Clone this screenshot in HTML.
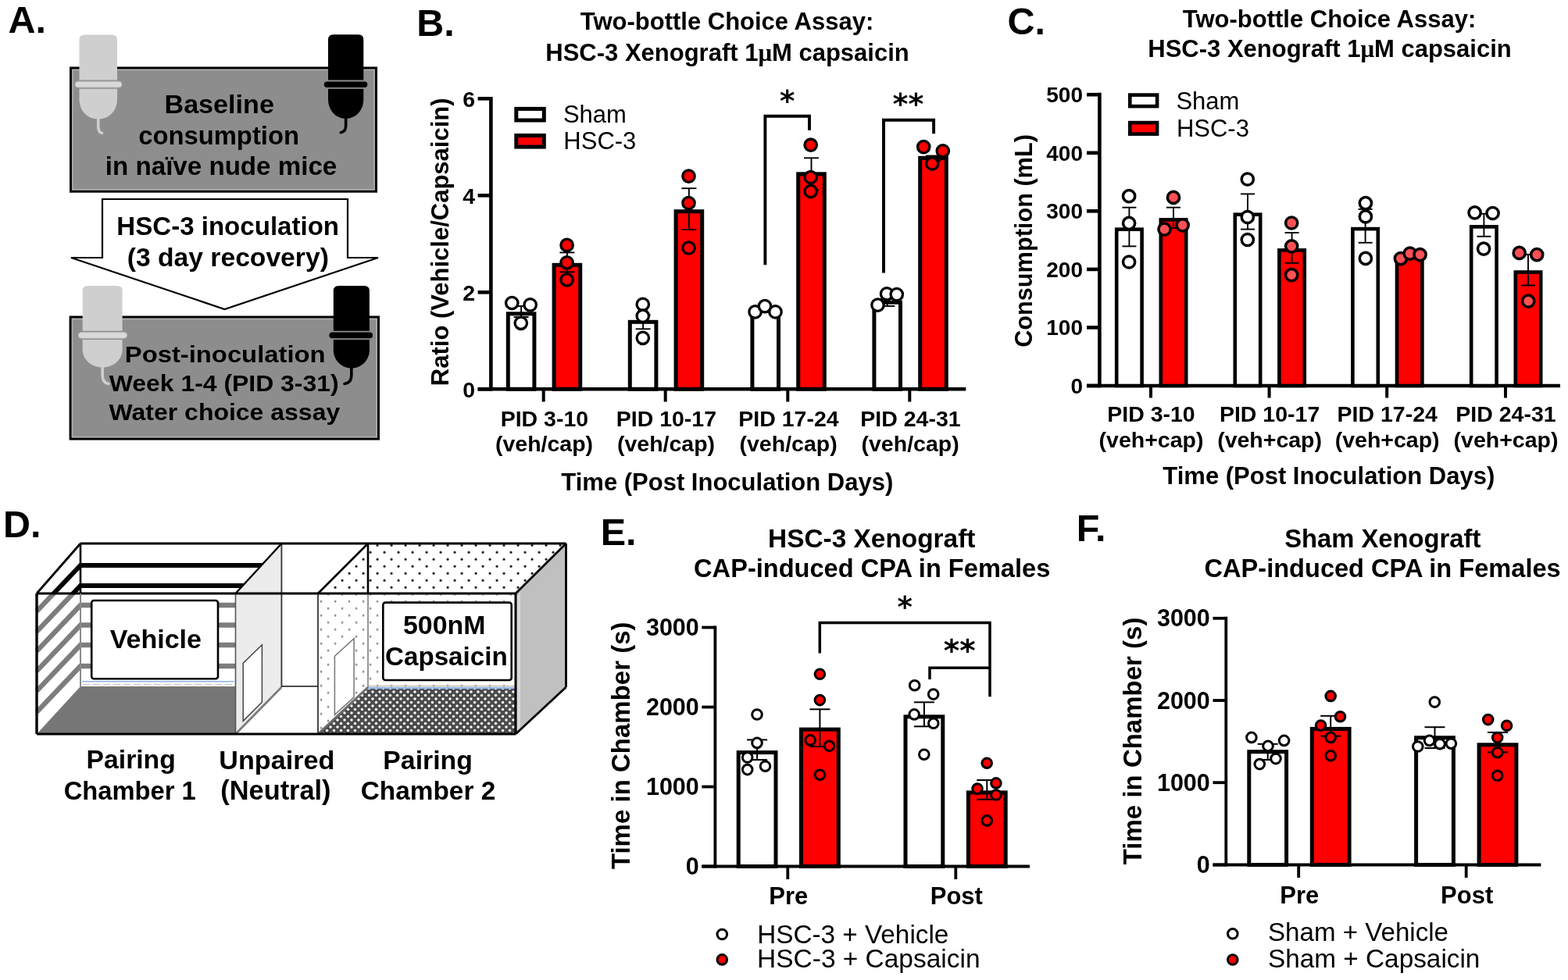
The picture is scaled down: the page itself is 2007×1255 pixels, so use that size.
<!DOCTYPE html><html><head><meta charset="utf-8"><title>Figure</title><style>html,body{margin:0;padding:0;background:#fff;overflow:hidden}svg{display:block}</style></head><body>
<svg width="2007" height="1255" viewBox="0 0 2007 1255" font-family="'Liberation Sans', sans-serif">
<rect width="2007" height="1255" fill="#fff"/>
<text x="10.5" y="41.5" font-size="48.5" font-weight="bold" text-anchor="start" >A.</text>
<text x="533.2" y="46.0" font-size="48.5" font-weight="bold" text-anchor="start" >B.</text>
<text x="1289.4" y="43.8" font-size="48.5" font-weight="bold" text-anchor="start" >C.</text>
<text x="4.0" y="688.0" font-size="48.5" font-weight="bold" text-anchor="start" >D.</text>
<text x="768.7" y="697.8" font-size="48.5" font-weight="bold" text-anchor="start" >E.</text>
<text x="1377.7" y="692.7" font-size="48.5" font-weight="bold" text-anchor="start" >F.</text>
<rect x="90.5" y="87.0" width="391.0" height="158.2" fill="#8d8d8d" stroke="#000" stroke-width="3"/>
<rect x="93.0" y="89.5" width="386.0" height="153.2" fill="none" stroke="#b0b0b0" stroke-width="1.5"/>
<rect x="90.1" y="406.0" width="394.4" height="156.1" fill="#8d8d8d" stroke="#000" stroke-width="3"/>
<rect x="92.6" y="408.5" width="389.4" height="151.1" fill="none" stroke="#b0b0b0" stroke-width="1.5"/>
<path d="M131,255 L445,255 L445,330 L484,330 L287.5,396 L91,330 L131,330 Z" fill="#fff" stroke="#000" stroke-width="2.2" stroke-linejoin="miter"/>
<path d="M101.5,102.4 L101.5,51.0 Q101.5,44.5 108.0,44.5 L143.5,44.5 Q150,44.5 150,51.0 L150,102.4 Z" fill="#cfcfcf"/>
<path d="M101.5,113.8 L101.5,126.8 C101.5,142.5 112.4,152.5 125.75,152.5 C139.1,152.5 150,142.5 150,126.8 L150,113.8 Z" fill="#cfcfcf"/>
<rect x="96" y="104.2" width="60" height="7.799999999999997" rx="3.8999999999999986" fill="#d9d9d9" stroke="#b8b8b8" stroke-width="1"/>
<path d="M125.75,151.5 L125.75,161.5 Q125.75,169.5 130.5,170.5" fill="none" stroke="#cfcfcf" stroke-width="3.6" stroke-linecap="round"/>
<path d="M420,102.60000000000001 L420,50.7 Q420,44.2 426.5,44.2 L458.8,44.2 Q465.3,44.2 465.3,50.7 L465.3,102.60000000000001 Z" fill="#000"/>
<path d="M420,113.7 L420,126.7 C420,141.8 430.2,151.8 442.65,151.8 C455.1,151.8 465.3,141.8 465.3,126.7 L465.3,113.7 Z" fill="#000"/>
<rect x="414.8" y="104.4" width="55.5" height="7.5" rx="3.75" fill="#000" stroke="none" stroke-width="1"/>
<path d="M442.65,150.8 L442.65,160.8 Q442.65,168.7 436.3,169.7" fill="none" stroke="#000" stroke-width="3.6" stroke-linecap="round"/>
<path d="M105.7,423.8 L105.7,372.5 Q105.7,366 112.2,366 L150.1,366 Q156.6,366 156.6,372.5 L156.6,423.8 Z" fill="#cfcfcf"/>
<path d="M105.7,435.0 L105.7,448.0 C105.7,460.5 117.2,470.5 131.15,470.5 C145.1,470.5 156.6,460.5 156.6,448.0 L156.6,435.0 Z" fill="#cfcfcf"/>
<rect x="100.3" y="425.6" width="62.3" height="7.599999999999966" rx="3.799999999999983" fill="#d9d9d9" stroke="#b8b8b8" stroke-width="1"/>
<path d="M131.15,469.5 L131.15,479.5 Q131.15,490.5 139,491.5" fill="none" stroke="#cfcfcf" stroke-width="3.6" stroke-linecap="round"/>
<path d="M426.8,423.8 L426.8,372.5 Q426.8,366 433.3,366 L466.4,366 Q472.9,366 472.9,372.5 L472.9,423.8 Z" fill="#000"/>
<path d="M426.8,435.0 L426.8,448.0 C426.8,461.5 437.2,471.5 449.85,471.5 C462.5,471.5 472.9,461.5 472.9,448.0 L472.9,435.0 Z" fill="#000"/>
<rect x="421.4" y="425.6" width="55.60000000000002" height="7.599999999999966" rx="3.799999999999983" fill="#000" stroke="none" stroke-width="1"/>
<path d="M449.85,470.5 L449.85,480.5 Q449.85,490.5 441,491.5" fill="none" stroke="#000" stroke-width="3.6" stroke-linecap="round"/>
<text transform="translate(210.48,144.50) scale(1,0.95)" font-size="34.15" font-weight="bold">Baseline</text>
<text x="177.25" y="185.20" font-size="32.77" font-weight="bold">consumption</text>
<text x="134.85" y="224.20" font-size="33.14" font-weight="bold">in naïve nude mice</text>
<text x="149.35" y="301.40" font-size="33.07" font-weight="bold">HSC-3 inoculation</text>
<text x="162.79" y="341.20" font-size="33.65" font-weight="bold">(3 day recovery)</text>
<text transform="translate(159.77,463.70) scale(1,0.92)" font-size="32.80" font-weight="bold">Post-inoculation</text>
<text transform="translate(139.80,501.00) scale(1,0.92)" font-size="31.91" font-weight="bold">Week 1-4 (PID 3-31)</text>
<text transform="translate(139.60,538.00) scale(1,0.92)" font-size="31.98" font-weight="bold">Water choice assay</text>
<defs><pattern id="dotsK" patternUnits="userSpaceOnUse" x="483.1" y="716.3" width="18" height="18"><circle cx="0" cy="0" r="1.6" fill="#000"/><circle cx="18" cy="0" r="1.6" fill="#000"/><circle cx="0" cy="18" r="1.6" fill="#000"/><circle cx="18" cy="18" r="1.6" fill="#000"/><circle cx="9" cy="9" r="1.6" fill="#000"/></pattern><pattern id="dotsG" patternUnits="userSpaceOnUse" x="483.1" y="716.3" width="18" height="18"><circle cx="0" cy="0" r="1.4" fill="#8a8a8a"/><circle cx="18" cy="0" r="1.4" fill="#8a8a8a"/><circle cx="0" cy="18" r="1.4" fill="#8a8a8a"/><circle cx="18" cy="18" r="1.4" fill="#8a8a8a"/><circle cx="9" cy="9" r="1.4" fill="#8a8a8a"/></pattern><pattern id="floorP" patternUnits="userSpaceOnUse" x="0" y="886" width="9" height="9"><rect width="9" height="9" fill="#4a4a4a"/><circle cx="0" cy="0" r="1.75" fill="#fff"/><circle cx="9" cy="0" r="1.75" fill="#fff"/><circle cx="0" cy="9" r="1.75" fill="#fff"/><circle cx="9" cy="9" r="1.75" fill="#fff"/><circle cx="4.5" cy="4.5" r="1.75" fill="#fff"/></pattern><clipPath id="above"><rect x="0" y="640" width="760" height="120"/></clipPath><clipPath id="below"><rect x="0" y="760" width="760" height="200"/></clipPath></defs>
<polygon points="103.0,696.0 360.4,696.0 360.4,880.0 103.0,880.0" fill="#fff"/>
<polygon points="47.0,760.0 103.0,696.0 103.0,880.0 47.0,940.0" fill="#fff"/>
<g clip-path="url(#above)"><path d="M360.4,724 L103,724 L47,782.8 M360.4,750 L103,750 L47,808.8 M360.4,775 L103,775 L47,833.8 M360.4,800.5 L103,800.5 L47,859.3 M360.4,826 L103,826 L47,884.8 M360.4,853 L103,853 L47,911.8 " stroke="#000" stroke-width="6" fill="none"/></g>
<g clip-path="url(#below)"><path d="M360.4,724 L103,724 L47,782.8 M360.4,750 L103,750 L47,808.8 M360.4,775 L103,775 L47,833.8 M360.4,800.5 L103,800.5 L47,859.3 M360.4,826 L103,826 L47,884.8 M360.4,853 L103,853 L47,911.8 " stroke="#7d7d7d" stroke-width="6.3" fill="none"/></g>
<polygon points="47.0,940.0 301.5,940.0 360.4,879.0 103.0,879.0" fill="#767676"/>
<line x1="105.0" y1="872.7" x2="299.5" y2="872.7" stroke="#8fb3ea" stroke-width="1.6" stroke-linecap="butt"/>
<line x1="106" y1="876.6" x2="298.5" y2="876.6" stroke="#cfcfcf" stroke-width="1.6" stroke-dasharray="9,4"/>
<polygon points="360.4,696.0 471.0,696.0 471.0,880.0 360.4,880.0" fill="#fff"/>
<polygon points="301.5,940.0 407.0,940.0 407.0,880.0 360.4,880.0" fill="#fff"/>
<line x1="360.4" y1="878.8" x2="407.0" y2="878.8" stroke="#333" stroke-width="1.8" stroke-linecap="butt"/>
<polygon points="471.0,696.0 724.5,696.0 724.5,880.0 471.0,880.0" fill="#fff"/>
<g clip-path="url(#above)"><polygon points="407.0,760.0 471.0,696.0 724.5,696.0 724.5,880.0 471.0,880.0" fill="url(#dotsK)"/></g>
<g clip-path="url(#below)"><polygon points="407.0,760.0 471.0,696.0 724.5,696.0 724.5,880.0 407.0,940.0" fill="url(#dotsG)"/></g>
<polygon points="408.0,940.0 660.0,940.0 660.0,882.0 471.0,882.0" fill="url(#floorP)"/>
<line x1="471.0" y1="881.2" x2="660.0" y2="881.2" stroke="#8fb3ea" stroke-width="2.2" stroke-linecap="butt"/>
<line x1="471.0" y1="878.6" x2="660.0" y2="878.6" stroke="#b9b2a6" stroke-width="1.2" stroke-linecap="butt"/>
<polygon points="301.5,760.0 360.4,696.0 360.4,880.0 301.5,940.0" fill="#ececec"/>
<polygon points="311.2,849.3 335.4,825.8 335.4,899.2 311.2,923.4" fill="#fff" stroke="#444" stroke-width="1.5"/>
<line x1="301.5" y1="940.0" x2="360.4" y2="880.0" stroke="#7a7a7a" stroke-width="2.6" stroke-linecap="butt"/>
<line x1="360.4" y1="696.0" x2="360.4" y2="880.0" stroke="#333" stroke-width="1.8" stroke-linecap="butt"/>
<line x1="301.5" y1="760.0" x2="301.5" y2="940.0" stroke="#555" stroke-width="1.6" stroke-linecap="butt"/>
<line x1="301.5" y1="760.0" x2="360.4" y2="696.0" stroke="#000" stroke-width="2.4" stroke-linecap="butt"/>
<polygon points="407.0,760.0 471.0,696.0 471.0,880.0 407.0,940.0" fill="#fff"/>
<g clip-path="url(#above)"><polygon points="407.0,760.0 471.0,696.0 471.0,880.0 407.0,940.0" fill="url(#dotsK)"/></g>
<g clip-path="url(#below)"><polygon points="407.0,760.0 471.0,696.0 471.0,880.0 407.0,940.0" fill="url(#dotsG)"/></g>
<polygon points="428.4,840.2 453.1,817.6 453.1,892.9 428.4,915.2" fill="#fff" stroke="#777" stroke-width="1.5"/>
<line x1="407.0" y1="940.0" x2="471.0" y2="880.0" stroke="#6a6a6a" stroke-width="2.6" stroke-linecap="butt"/>
<g clip-path="url(#above)">
<line x1="471.0" y1="696.0" x2="471.0" y2="760.0" stroke="#000" stroke-width="2.6" stroke-linecap="butt"/>
</g>
<g clip-path="url(#below)">
<line x1="471.0" y1="760.0" x2="471.0" y2="880.0" stroke="#9a9a9a" stroke-width="2.2" stroke-linecap="butt"/>
</g>
<line x1="407.0" y1="760.0" x2="407.0" y2="940.0" stroke="#333" stroke-width="1.8" stroke-linecap="butt"/>
<line x1="407.0" y1="760.0" x2="471.0" y2="696.0" stroke="#000" stroke-width="2.6" stroke-linecap="butt"/>
<polygon points="660.0,760.0 724.5,696.0 724.5,880.0 660.0,940.0" fill="#c0c0c0"/>
<polygon points="662.0,763.0 666.0,759.0 666.0,935.0 662.0,938.0" fill="#d8d8d8"/>
<rect x="117.2" y="769" width="161.8" height="100.2" rx="3" fill="#fff" stroke="#000" stroke-width="2.6"/>
<rect x="490.3" y="771.6" width="164.4" height="99.4" rx="3" fill="#fff" stroke="#000" stroke-width="2.6"/>
<text x="140.63" y="830.00" font-size="34.05" font-weight="bold">Vehicle</text>
<text x="515.98" y="811.70" font-size="33.87" font-weight="bold">500nM</text>
<text x="493.07" y="852.20" font-size="33.15" font-weight="bold">Capsaicin</text>
<line x1="103.0" y1="696.0" x2="724.5" y2="696.0" stroke="#000" stroke-width="2.8" stroke-linecap="butt"/>
<line x1="47.0" y1="760.0" x2="103.0" y2="696.0" stroke="#000" stroke-width="2.8" stroke-linecap="butt"/>
<line x1="660.0" y1="760.0" x2="724.5" y2="696.0" stroke="#000" stroke-width="2.8" stroke-linecap="butt"/>
<line x1="724.5" y1="696.0" x2="724.5" y2="880.0" stroke="#000" stroke-width="2.8" stroke-linecap="butt"/>
<line x1="660.0" y1="940.0" x2="724.5" y2="880.0" stroke="#000" stroke-width="2.8" stroke-linecap="butt"/>
<line x1="47.0" y1="760.0" x2="660.0" y2="760.0" stroke="#000" stroke-width="2.8" stroke-linecap="butt"/>
<line x1="47.0" y1="940.0" x2="660.0" y2="940.0" stroke="#000" stroke-width="3.2" stroke-linecap="butt"/>
<line x1="47.0" y1="760.0" x2="47.0" y2="940.0" stroke="#000" stroke-width="3.4" stroke-linecap="butt"/>
<line x1="660.0" y1="760.0" x2="660.0" y2="940.0" stroke="#000" stroke-width="3.0" stroke-linecap="butt"/>
<line x1="103.0" y1="696.0" x2="103.0" y2="760.0" stroke="#000" stroke-width="2.6" stroke-linecap="butt"/>
<g clip-path="url(#below)">
<line x1="103.0" y1="760.0" x2="103.0" y2="880.0" stroke="#8a8a8a" stroke-width="2.0" stroke-linecap="butt"/>
</g>
<text x="110.61" y="984.10" font-size="33.68" font-weight="bold">Pairing</text>
<text x="81.69" y="1023.70" font-size="32.71" font-weight="bold">Chamber 1</text>
<text x="280.35" y="984.70" font-size="34.13" font-weight="bold">Unpaired</text>
<text x="282.35" y="1023.70" font-size="34.35" font-weight="bold">(Neutral)</text>
<text x="490.30" y="984.50" font-size="33.80" font-weight="bold">Pairing</text>
<text x="461.76" y="1023.70" font-size="33.38" font-weight="bold">Chamber 2</text>
<text x="930.5" y="37.8" font-size="31" font-weight="bold" text-anchor="middle" >Two-bottle Choice Assay:</text>
<text x="931.0" y="78.3" font-size="31" font-weight="bold" text-anchor="middle" >HSC-3 Xenograft 1<tspan font-family="'Liberation Serif', serif">μ</tspan>M capsaicin</text>
<line x1="628.4" y1="124.0" x2="628.4" y2="500.6" stroke="#000" stroke-width="4.6" stroke-linecap="butt"/>
<line x1="611.6" y1="126.3" x2="628.4" y2="126.3" stroke="#000" stroke-width="4.6" stroke-linecap="butt"/>
<text x="608.0" y="136.6" font-size="28.5" font-weight="bold" text-anchor="end" >6</text>
<line x1="611.6" y1="250.3" x2="628.4" y2="250.3" stroke="#000" stroke-width="4.6" stroke-linecap="butt"/>
<text x="608.0" y="260.6" font-size="28.5" font-weight="bold" text-anchor="end" >4</text>
<line x1="611.6" y1="374.3" x2="628.4" y2="374.3" stroke="#000" stroke-width="4.6" stroke-linecap="butt"/>
<text x="608.0" y="384.6" font-size="28.5" font-weight="bold" text-anchor="end" >2</text>
<line x1="611.6" y1="498.3" x2="628.4" y2="498.3" stroke="#000" stroke-width="4.6" stroke-linecap="butt"/>
<text x="608.0" y="508.6" font-size="28.5" font-weight="bold" text-anchor="end" >0</text>
<line x1="611.6" y1="498.3" x2="1236.3" y2="498.3" stroke="#000" stroke-width="4.6" stroke-linecap="butt"/>
<line x1="695.7" y1="498.3" x2="695.7" y2="514.5" stroke="#000" stroke-width="4" stroke-linecap="butt"/>
<line x1="851.7" y1="498.3" x2="851.7" y2="514.5" stroke="#000" stroke-width="4" stroke-linecap="butt"/>
<line x1="1008.3" y1="498.3" x2="1008.3" y2="514.5" stroke="#000" stroke-width="4" stroke-linecap="butt"/>
<line x1="1164.3" y1="498.3" x2="1164.3" y2="514.5" stroke="#000" stroke-width="4" stroke-linecap="butt"/>
<text x="696.9" y="545.5" font-size="28.5" font-weight="bold" text-anchor="middle" >PID 3-10</text>
<text x="696.5" y="577.9" font-size="28.5" font-weight="bold" text-anchor="middle" >(veh/cap)</text>
<text x="852.9" y="545.5" font-size="28.5" font-weight="bold" text-anchor="middle" >PID 10-17</text>
<text x="852.5" y="577.9" font-size="28.5" font-weight="bold" text-anchor="middle" >(veh/cap)</text>
<text x="1009.5" y="545.5" font-size="28.5" font-weight="bold" text-anchor="middle" >PID 17-24</text>
<text x="1009.1" y="577.9" font-size="28.5" font-weight="bold" text-anchor="middle" >(veh/cap)</text>
<text x="1165.5" y="545.5" font-size="28.5" font-weight="bold" text-anchor="middle" >PID 24-31</text>
<text x="1165.1" y="577.9" font-size="28.5" font-weight="bold" text-anchor="middle" >(veh/cap)</text>
<text x="930.8" y="627.7" font-size="31" font-weight="bold" text-anchor="middle" >Time (Post Inoculation Days)</text>
<text transform="translate(573.6,309.8) rotate(-90)" font-size="31" font-weight="bold" text-anchor="middle">Ratio (Vehicle/Capsaicin)</text>
<rect x="650.3" y="401.8" width="33.6" height="96.5" fill="#fff" stroke="#000" stroke-width="5"/>
<rect x="709.1" y="339.3" width="33.6" height="159.0" fill="#ff0000" stroke="#000" stroke-width="5"/>
<line x1="667.1" y1="392.0" x2="667.1" y2="406.0" stroke="#000" stroke-width="1.9" stroke-linecap="butt"/>
<line x1="657.6" y1="392.0" x2="676.6" y2="392.0" stroke="#000" stroke-width="1.9" stroke-linecap="butt"/>
<line x1="657.6" y1="406.0" x2="676.6" y2="406.0" stroke="#000" stroke-width="1.9" stroke-linecap="butt"/>
<line x1="725.9" y1="323.4" x2="725.9" y2="348.3" stroke="#000" stroke-width="1.9" stroke-linecap="butt"/>
<line x1="716.4" y1="323.4" x2="735.4" y2="323.4" stroke="#000" stroke-width="1.9" stroke-linecap="butt"/>
<line x1="716.4" y1="348.3" x2="735.4" y2="348.3" stroke="#000" stroke-width="1.9" stroke-linecap="butt"/>
<circle cx="655.3" cy="388.0" r="7.7" fill="#fff" stroke="#000" stroke-width="3.3"/>
<circle cx="678.7" cy="390.4" r="7.7" fill="#fff" stroke="#000" stroke-width="3.3"/>
<circle cx="666.8" cy="413.8" r="7.7" fill="#fff" stroke="#000" stroke-width="3.3"/>
<circle cx="725.6" cy="313.9" r="7.7" fill="#ff0000" stroke="#000" stroke-width="3.3"/>
<circle cx="725.6" cy="336.3" r="7.7" fill="#ff0000" stroke="#000" stroke-width="3.3"/>
<circle cx="725.6" cy="358.3" r="7.7" fill="#ff0000" stroke="#000" stroke-width="3.3"/>
<rect x="806.3" y="412.3" width="33.6" height="86.0" fill="#fff" stroke="#000" stroke-width="5"/>
<rect x="865.1" y="270.7" width="33.6" height="227.6" fill="#ff0000" stroke="#000" stroke-width="5"/>
<line x1="823.1" y1="403.3" x2="823.1" y2="421.3" stroke="#000" stroke-width="1.9" stroke-linecap="butt"/>
<line x1="813.6" y1="403.3" x2="832.6" y2="403.3" stroke="#000" stroke-width="1.9" stroke-linecap="butt"/>
<line x1="813.6" y1="421.3" x2="832.6" y2="421.3" stroke="#000" stroke-width="1.9" stroke-linecap="butt"/>
<line x1="881.9" y1="241.2" x2="881.9" y2="294.0" stroke="#000" stroke-width="1.9" stroke-linecap="butt"/>
<line x1="872.4" y1="241.2" x2="891.4" y2="241.2" stroke="#000" stroke-width="1.9" stroke-linecap="butt"/>
<line x1="872.4" y1="294.0" x2="891.4" y2="294.0" stroke="#000" stroke-width="1.9" stroke-linecap="butt"/>
<circle cx="822.8" cy="389.8" r="7.7" fill="#fff" stroke="#000" stroke-width="3.3"/>
<circle cx="822.8" cy="404.7" r="7.7" fill="#fff" stroke="#000" stroke-width="3.3"/>
<circle cx="822.8" cy="432.8" r="7.7" fill="#fff" stroke="#000" stroke-width="3.3"/>
<circle cx="881.5" cy="225.6" r="7.7" fill="#ff0000" stroke="#000" stroke-width="3.3"/>
<circle cx="881.5" cy="260.0" r="7.7" fill="#ff0000" stroke="#000" stroke-width="3.3"/>
<circle cx="881.5" cy="317.5" r="7.7" fill="#ff0000" stroke="#000" stroke-width="3.3"/>
<rect x="962.9" y="397.0" width="33.6" height="101.3" fill="#fff" stroke="#000" stroke-width="5"/>
<rect x="1021.7" y="222.8" width="33.6" height="275.5" fill="#ff0000" stroke="#000" stroke-width="5"/>
<line x1="979.7" y1="394.0" x2="979.7" y2="400.0" stroke="#000" stroke-width="1.9" stroke-linecap="butt"/>
<line x1="970.2" y1="394.0" x2="989.2" y2="394.0" stroke="#000" stroke-width="1.9" stroke-linecap="butt"/>
<line x1="970.2" y1="400.0" x2="989.2" y2="400.0" stroke="#000" stroke-width="1.9" stroke-linecap="butt"/>
<line x1="1038.5" y1="202.3" x2="1038.5" y2="243.3" stroke="#000" stroke-width="1.9" stroke-linecap="butt"/>
<line x1="1029.0" y1="202.3" x2="1048.0" y2="202.3" stroke="#000" stroke-width="1.9" stroke-linecap="butt"/>
<line x1="1029.0" y1="243.3" x2="1048.0" y2="243.3" stroke="#000" stroke-width="1.9" stroke-linecap="butt"/>
<circle cx="966.6" cy="399.4" r="7.7" fill="#fff" stroke="#000" stroke-width="3.3"/>
<circle cx="979.0" cy="392.1" r="7.7" fill="#fff" stroke="#000" stroke-width="3.3"/>
<circle cx="992.5" cy="399.4" r="7.7" fill="#fff" stroke="#000" stroke-width="3.3"/>
<circle cx="1037.7" cy="185.7" r="7.7" fill="#ff0000" stroke="#000" stroke-width="3.3"/>
<circle cx="1037.7" cy="227.0" r="7.7" fill="#ff0000" stroke="#000" stroke-width="3.3"/>
<circle cx="1037.7" cy="245.0" r="7.7" fill="#ff0000" stroke="#000" stroke-width="3.3"/>
<rect x="1118.9" y="387.2" width="33.6" height="111.1" fill="#fff" stroke="#000" stroke-width="5"/>
<rect x="1177.7" y="202.3" width="33.6" height="296.0" fill="#ff0000" stroke="#000" stroke-width="5"/>
<line x1="1135.7" y1="383.0" x2="1135.7" y2="392.0" stroke="#000" stroke-width="1.9" stroke-linecap="butt"/>
<line x1="1126.2" y1="383.0" x2="1145.2" y2="383.0" stroke="#000" stroke-width="1.9" stroke-linecap="butt"/>
<line x1="1126.2" y1="392.0" x2="1145.2" y2="392.0" stroke="#000" stroke-width="1.9" stroke-linecap="butt"/>
<line x1="1194.5" y1="199.5" x2="1194.5" y2="206.0" stroke="#000" stroke-width="1.9" stroke-linecap="butt"/>
<line x1="1185.0" y1="199.5" x2="1204.0" y2="199.5" stroke="#000" stroke-width="1.9" stroke-linecap="butt"/>
<line x1="1185.0" y1="206.0" x2="1204.0" y2="206.0" stroke="#000" stroke-width="1.9" stroke-linecap="butt"/>
<circle cx="1123.5" cy="390.6" r="7.7" fill="#fff" stroke="#000" stroke-width="3.3"/>
<circle cx="1135.1" cy="376.3" r="7.7" fill="#fff" stroke="#000" stroke-width="3.3"/>
<circle cx="1147.8" cy="377.1" r="7.7" fill="#fff" stroke="#000" stroke-width="3.3"/>
<circle cx="1182.2" cy="188.1" r="7.7" fill="#ff0000" stroke="#000" stroke-width="3.3"/>
<circle cx="1206.8" cy="193.3" r="7.7" fill="#ff0000" stroke="#000" stroke-width="3.3"/>
<circle cx="1193.2" cy="209.5" r="7.7" fill="#ff0000" stroke="#000" stroke-width="3.3"/>
<polyline points="979.4,339.3 979.4,148.8 1036.0,148.8 1036.0,166.7" stroke="#000" stroke-width="3.9" fill="none" stroke-linejoin="miter"/>
<polyline points="1131.0,349.6 1131.0,153.8 1195.1,153.8 1195.1,171.3" stroke="#000" stroke-width="3.9" fill="none" stroke-linejoin="miter"/>
<text x="1007.7" y="141.6" font-family="'DejaVu Sans', sans-serif" font-weight="bold" font-size="37" text-anchor="middle">*</text>
<text x="1162.4" y="146.1" font-family="'DejaVu Sans', sans-serif" font-weight="bold" font-size="38" text-anchor="middle">**</text>
<rect x="660.8" y="139.4" width="35.5" height="14.6" fill="#fff" stroke="#000" stroke-width="5"/>
<rect x="660.8" y="173.5" width="35.5" height="14.6" fill="#ff0000" stroke="#000" stroke-width="5"/>
<text x="720.90" y="157.30" font-size="31.00" font-weight="normal">Sham</text>
<text x="721.32" y="191.10" font-size="31.00" font-weight="normal">HSC-3</text>
<text x="1701.5" y="34.9" font-size="31" font-weight="bold" text-anchor="middle" >Two-bottle Choice Assay:</text>
<text x="1702.0" y="73.4" font-size="31" font-weight="bold" text-anchor="middle" >HSC-3 Xenograft 1<tspan font-family="'Liberation Serif', serif">μ</tspan>M capsaicin</text>
<line x1="1407.4" y1="118.8" x2="1407.4" y2="496.3" stroke="#000" stroke-width="4.6" stroke-linecap="butt"/>
<line x1="1391.0" y1="121.2" x2="1407.4" y2="121.2" stroke="#000" stroke-width="4.6" stroke-linecap="butt"/>
<text x="1386.0" y="131.2" font-size="28" font-weight="bold" text-anchor="end" >500</text>
<line x1="1391.0" y1="195.8" x2="1407.4" y2="195.8" stroke="#000" stroke-width="4.6" stroke-linecap="butt"/>
<text x="1386.0" y="205.8" font-size="28" font-weight="bold" text-anchor="end" >400</text>
<line x1="1391.0" y1="270.3" x2="1407.4" y2="270.3" stroke="#000" stroke-width="4.6" stroke-linecap="butt"/>
<text x="1386.0" y="280.3" font-size="28" font-weight="bold" text-anchor="end" >300</text>
<line x1="1391.0" y1="344.9" x2="1407.4" y2="344.9" stroke="#000" stroke-width="4.6" stroke-linecap="butt"/>
<text x="1386.0" y="354.9" font-size="28" font-weight="bold" text-anchor="end" >200</text>
<line x1="1391.0" y1="419.4" x2="1407.4" y2="419.4" stroke="#000" stroke-width="4.6" stroke-linecap="butt"/>
<text x="1386.0" y="429.4" font-size="28" font-weight="bold" text-anchor="end" >100</text>
<line x1="1391.0" y1="494.0" x2="1407.4" y2="494.0" stroke="#000" stroke-width="4.6" stroke-linecap="butt"/>
<text x="1386.0" y="504.0" font-size="28" font-weight="bold" text-anchor="end" >0</text>
<line x1="1391.0" y1="494.0" x2="1997.0" y2="494.0" stroke="#000" stroke-width="4.6" stroke-linecap="butt"/>
<line x1="1473.0" y1="494.0" x2="1473.0" y2="509.5" stroke="#000" stroke-width="4" stroke-linecap="butt"/>
<line x1="1624.6" y1="494.0" x2="1624.6" y2="509.5" stroke="#000" stroke-width="4" stroke-linecap="butt"/>
<line x1="1775.2" y1="494.0" x2="1775.2" y2="509.5" stroke="#000" stroke-width="4" stroke-linecap="butt"/>
<line x1="1927.0" y1="494.0" x2="1927.0" y2="509.5" stroke="#000" stroke-width="4" stroke-linecap="butt"/>
<text x="1473.5" y="540.1" font-size="28.5" font-weight="bold" text-anchor="middle" >PID 3-10</text>
<text x="1473.5" y="572.5" font-size="28.5" font-weight="bold" text-anchor="middle" >(veh+cap)</text>
<text x="1625.1" y="540.1" font-size="28.5" font-weight="bold" text-anchor="middle" >PID 10-17</text>
<text x="1625.1" y="572.5" font-size="28.5" font-weight="bold" text-anchor="middle" >(veh+cap)</text>
<text x="1775.7" y="540.1" font-size="28.5" font-weight="bold" text-anchor="middle" >PID 17-24</text>
<text x="1775.7" y="572.5" font-size="28.5" font-weight="bold" text-anchor="middle" >(veh+cap)</text>
<text x="1927.5" y="540.1" font-size="28.5" font-weight="bold" text-anchor="middle" >PID 24-31</text>
<text x="1927.5" y="572.5" font-size="28.5" font-weight="bold" text-anchor="middle" >(veh+cap)</text>
<text x="1700.8" y="620.0" font-size="31" font-weight="bold" text-anchor="middle" >Time (Post Inoculation Days)</text>
<text transform="translate(1320.5,308.5) rotate(-90)" font-size="30.7" font-weight="bold" text-anchor="middle">Consumption (mL)</text>
<rect x="1429.2" y="293.7" width="32.4" height="200.3" fill="#fff" stroke="#000" stroke-width="4.6"/>
<rect x="1485.8" y="281.4" width="32.4" height="212.6" fill="#ff0000" stroke="#000" stroke-width="4.6"/>
<line x1="1445.4" y1="265.7" x2="1445.4" y2="315.4" stroke="#000" stroke-width="1.9" stroke-linecap="butt"/>
<line x1="1436.4" y1="265.7" x2="1454.4" y2="265.7" stroke="#000" stroke-width="1.9" stroke-linecap="butt"/>
<line x1="1436.4" y1="315.4" x2="1454.4" y2="315.4" stroke="#000" stroke-width="1.9" stroke-linecap="butt"/>
<line x1="1502.0" y1="265.7" x2="1502.0" y2="292.0" stroke="#000" stroke-width="1.9" stroke-linecap="butt"/>
<line x1="1493.0" y1="265.7" x2="1511.0" y2="265.7" stroke="#000" stroke-width="1.9" stroke-linecap="butt"/>
<line x1="1493.0" y1="292.0" x2="1511.0" y2="292.0" stroke="#000" stroke-width="1.9" stroke-linecap="butt"/>
<circle cx="1445.1" cy="251.2" r="7.6" fill="#fff" stroke="#000" stroke-width="3.5"/>
<circle cx="1445.1" cy="285.8" r="7.6" fill="#fff" stroke="#000" stroke-width="3.5"/>
<circle cx="1445.1" cy="335.5" r="7.6" fill="#fff" stroke="#000" stroke-width="3.5"/>
<circle cx="1502.0" cy="252.9" r="7.6" fill="#ff5055" stroke="#000" stroke-width="3.5"/>
<circle cx="1490.5" cy="293.6" r="7.6" fill="#ff5055" stroke="#000" stroke-width="3.5"/>
<circle cx="1513.7" cy="288.3" r="7.6" fill="#ff5055" stroke="#000" stroke-width="3.5"/>
<rect x="1580.8" y="274.7" width="32.4" height="219.3" fill="#fff" stroke="#000" stroke-width="4.6"/>
<rect x="1637.4" y="320.4" width="32.4" height="173.6" fill="#ff0000" stroke="#000" stroke-width="4.6"/>
<line x1="1597.0" y1="248.4" x2="1597.0" y2="293.6" stroke="#000" stroke-width="1.9" stroke-linecap="butt"/>
<line x1="1588.0" y1="248.4" x2="1606.0" y2="248.4" stroke="#000" stroke-width="1.9" stroke-linecap="butt"/>
<line x1="1588.0" y1="293.6" x2="1606.0" y2="293.6" stroke="#000" stroke-width="1.9" stroke-linecap="butt"/>
<line x1="1653.6" y1="298.0" x2="1653.6" y2="336.8" stroke="#000" stroke-width="1.9" stroke-linecap="butt"/>
<line x1="1644.6" y1="298.0" x2="1662.6" y2="298.0" stroke="#000" stroke-width="1.9" stroke-linecap="butt"/>
<line x1="1644.6" y1="336.8" x2="1662.6" y2="336.8" stroke="#000" stroke-width="1.9" stroke-linecap="butt"/>
<circle cx="1596.8" cy="229.5" r="7.6" fill="#fff" stroke="#000" stroke-width="3.5"/>
<circle cx="1596.8" cy="278.0" r="7.6" fill="#fff" stroke="#000" stroke-width="3.5"/>
<circle cx="1596.8" cy="307.0" r="7.6" fill="#fff" stroke="#000" stroke-width="3.5"/>
<circle cx="1653.2" cy="285.5" r="7.6" fill="#ff5055" stroke="#000" stroke-width="3.5"/>
<circle cx="1653.2" cy="315.3" r="7.6" fill="#ff5055" stroke="#000" stroke-width="3.5"/>
<circle cx="1653.2" cy="352.1" r="7.6" fill="#ff5055" stroke="#000" stroke-width="3.5"/>
<rect x="1731.4" y="293.1" width="32.4" height="200.9" fill="#fff" stroke="#000" stroke-width="4.6"/>
<rect x="1788.0" y="327.8" width="32.4" height="166.2" fill="#ff0000" stroke="#000" stroke-width="4.6"/>
<line x1="1747.6" y1="267.9" x2="1747.6" y2="310.8" stroke="#000" stroke-width="1.9" stroke-linecap="butt"/>
<line x1="1738.6" y1="267.9" x2="1756.6" y2="267.9" stroke="#000" stroke-width="1.9" stroke-linecap="butt"/>
<line x1="1738.6" y1="310.8" x2="1756.6" y2="310.8" stroke="#000" stroke-width="1.9" stroke-linecap="butt"/>
<line x1="1804.2" y1="325.0" x2="1804.2" y2="330.0" stroke="#000" stroke-width="1.9" stroke-linecap="butt"/>
<line x1="1795.2" y1="325.0" x2="1813.2" y2="325.0" stroke="#000" stroke-width="1.9" stroke-linecap="butt"/>
<line x1="1795.2" y1="330.0" x2="1813.2" y2="330.0" stroke="#000" stroke-width="1.9" stroke-linecap="butt"/>
<circle cx="1747.9" cy="260.1" r="7.6" fill="#fff" stroke="#000" stroke-width="3.5"/>
<circle cx="1747.9" cy="277.4" r="7.6" fill="#fff" stroke="#000" stroke-width="3.5"/>
<circle cx="1747.9" cy="330.9" r="7.6" fill="#fff" stroke="#000" stroke-width="3.5"/>
<circle cx="1792.9" cy="331.1" r="7.6" fill="#ff5055" stroke="#000" stroke-width="3.5"/>
<circle cx="1804.7" cy="324.6" r="7.6" fill="#ff5055" stroke="#000" stroke-width="3.5"/>
<circle cx="1817.6" cy="326.1" r="7.6" fill="#ff5055" stroke="#000" stroke-width="3.5"/>
<rect x="1883.2" y="290.4" width="32.4" height="203.6" fill="#fff" stroke="#000" stroke-width="4.6"/>
<rect x="1939.8" y="348.5" width="32.4" height="145.5" fill="#ff0000" stroke="#000" stroke-width="4.6"/>
<line x1="1899.4" y1="273.7" x2="1899.4" y2="302.8" stroke="#000" stroke-width="1.9" stroke-linecap="butt"/>
<line x1="1890.4" y1="273.7" x2="1908.4" y2="273.7" stroke="#000" stroke-width="1.9" stroke-linecap="butt"/>
<line x1="1890.4" y1="302.8" x2="1908.4" y2="302.8" stroke="#000" stroke-width="1.9" stroke-linecap="butt"/>
<line x1="1956.0" y1="326.0" x2="1956.0" y2="365.5" stroke="#000" stroke-width="1.9" stroke-linecap="butt"/>
<line x1="1947.0" y1="326.0" x2="1965.0" y2="326.0" stroke="#000" stroke-width="1.9" stroke-linecap="butt"/>
<line x1="1947.0" y1="365.5" x2="1965.0" y2="365.5" stroke="#000" stroke-width="1.9" stroke-linecap="butt"/>
<circle cx="1887.6" cy="272.3" r="7.6" fill="#fff" stroke="#000" stroke-width="3.5"/>
<circle cx="1910.6" cy="273.0" r="7.6" fill="#fff" stroke="#000" stroke-width="3.5"/>
<circle cx="1899.1" cy="318.6" r="7.6" fill="#fff" stroke="#000" stroke-width="3.5"/>
<circle cx="1944.7" cy="323.9" r="7.6" fill="#ff5055" stroke="#000" stroke-width="3.5"/>
<circle cx="1967.2" cy="326.1" r="7.6" fill="#ff5055" stroke="#000" stroke-width="3.5"/>
<circle cx="1956.2" cy="385.6" r="7.6" fill="#ff5055" stroke="#000" stroke-width="3.5"/>
<rect x="1446.3" y="121.6" width="34.8" height="14.5" fill="#fff" stroke="#000" stroke-width="4.6"/>
<rect x="1446.3" y="157.1" width="34.8" height="14.5" fill="#ff0000" stroke="#000" stroke-width="4.6"/>
<text x="1505.40" y="139.50" font-size="31.00" font-weight="normal">Sham</text>
<text x="1505.92" y="174.50" font-size="31.00" font-weight="normal">HSC-3</text>
<text x="983.03" y="701.20" font-size="33.42" font-weight="bold">HSC-3 Xenograft</text>
<text x="888.10" y="738.70" font-size="32.60" font-weight="bold">CAP-induced CPA in Females</text>
<line x1="915.4" y1="801.5" x2="915.4" y2="1111.5" stroke="#000" stroke-width="3.8" stroke-linecap="butt"/>
<line x1="898.3" y1="803.5" x2="915.4" y2="803.5" stroke="#000" stroke-width="3.8" stroke-linecap="butt"/>
<text x="894.8" y="814.1" font-size="30.5" font-weight="bold" text-anchor="end" >3000</text>
<line x1="898.3" y1="905.5" x2="915.4" y2="905.5" stroke="#000" stroke-width="3.8" stroke-linecap="butt"/>
<text x="894.8" y="916.1" font-size="30.5" font-weight="bold" text-anchor="end" >2000</text>
<line x1="898.3" y1="1007.5" x2="915.4" y2="1007.5" stroke="#000" stroke-width="3.8" stroke-linecap="butt"/>
<text x="894.8" y="1018.1" font-size="30.5" font-weight="bold" text-anchor="end" >1000</text>
<line x1="898.3" y1="1109.5" x2="915.4" y2="1109.5" stroke="#000" stroke-width="3.8" stroke-linecap="butt"/>
<text x="894.8" y="1120.1" font-size="30.5" font-weight="bold" text-anchor="end" >0</text>
<line x1="898.3" y1="1109.5" x2="1318.0" y2="1109.5" stroke="#000" stroke-width="4.2" stroke-linecap="butt"/>
<line x1="1008.3" y1="1109.5" x2="1008.3" y2="1126.0" stroke="#000" stroke-width="3.8" stroke-linecap="butt"/>
<line x1="1223.3" y1="1109.5" x2="1223.3" y2="1126.0" stroke="#000" stroke-width="3.8" stroke-linecap="butt"/>
<text x="1009.3" y="1158.4" font-size="31" font-weight="bold" text-anchor="middle" >Pre</text>
<text x="1224.3" y="1158.4" font-size="31" font-weight="bold" text-anchor="middle" >Post</text>
<text transform="translate(806.0,954.8) rotate(-90)" font-size="33" font-weight="bold" text-anchor="middle">Time in Chamber (s)</text>
<rect x="945.2" y="963.6" width="47.8" height="145.9" fill="#fff" stroke="#000" stroke-width="5"/>
<line x1="969.1" y1="947.4" x2="969.1" y2="973.0" stroke="#000" stroke-width="2.0" stroke-linecap="butt"/>
<line x1="956.1" y1="947.4" x2="982.1" y2="947.4" stroke="#000" stroke-width="2.0" stroke-linecap="butt"/>
<line x1="956.1" y1="973.0" x2="982.1" y2="973.0" stroke="#000" stroke-width="2.0" stroke-linecap="butt"/>
<circle cx="969.0" cy="915.0" r="6.3" fill="#fff" stroke="#000" stroke-width="3.0"/>
<circle cx="969.0" cy="951.4" r="6.3" fill="#fff" stroke="#000" stroke-width="3.0"/>
<circle cx="956.7" cy="970.0" r="6.3" fill="#fff" stroke="#000" stroke-width="3.0"/>
<circle cx="956.7" cy="985.6" r="6.3" fill="#fff" stroke="#000" stroke-width="3.0"/>
<circle cx="979.5" cy="981.2" r="6.3" fill="#fff" stroke="#000" stroke-width="3.0"/>
<rect x="1025.5" y="934.1" width="47.8" height="175.4" fill="#ff0000" stroke="#000" stroke-width="5"/>
<line x1="1049.4" y1="908.3" x2="1049.4" y2="956.0" stroke="#000" stroke-width="2.0" stroke-linecap="butt"/>
<line x1="1036.4" y1="908.3" x2="1062.4" y2="908.3" stroke="#000" stroke-width="2.0" stroke-linecap="butt"/>
<line x1="1036.4" y1="956.0" x2="1062.4" y2="956.0" stroke="#000" stroke-width="2.0" stroke-linecap="butt"/>
<circle cx="1049.4" cy="863.3" r="6.3" fill="#ff0000" stroke="#000" stroke-width="3.0"/>
<circle cx="1049.4" cy="896.6" r="6.3" fill="#ff0000" stroke="#000" stroke-width="3.0"/>
<circle cx="1037.2" cy="947.9" r="6.3" fill="#ff0000" stroke="#000" stroke-width="3.0"/>
<circle cx="1061.5" cy="955.3" r="6.3" fill="#ff0000" stroke="#000" stroke-width="3.0"/>
<circle cx="1049.4" cy="992.2" r="6.3" fill="#ff0000" stroke="#000" stroke-width="3.0"/>
<rect x="1159.0" y="917.8" width="47.8" height="191.7" fill="#fff" stroke="#000" stroke-width="5"/>
<line x1="1182.9" y1="899.3" x2="1182.9" y2="930.3" stroke="#000" stroke-width="2.0" stroke-linecap="butt"/>
<line x1="1169.9" y1="899.3" x2="1195.9" y2="899.3" stroke="#000" stroke-width="2.0" stroke-linecap="butt"/>
<line x1="1169.9" y1="930.3" x2="1195.9" y2="930.3" stroke="#000" stroke-width="2.0" stroke-linecap="butt"/>
<circle cx="1170.7" cy="877.7" r="6.3" fill="#fff" stroke="#000" stroke-width="3.0"/>
<circle cx="1194.7" cy="889.1" r="6.3" fill="#fff" stroke="#000" stroke-width="3.0"/>
<circle cx="1170.2" cy="914.9" r="6.3" fill="#fff" stroke="#000" stroke-width="3.0"/>
<circle cx="1194.8" cy="926.3" r="6.3" fill="#fff" stroke="#000" stroke-width="3.0"/>
<circle cx="1182.8" cy="966.2" r="6.3" fill="#fff" stroke="#000" stroke-width="3.0"/>
<rect x="1239.4" y="1014.9" width="47.8" height="94.6" fill="#ff0000" stroke="#000" stroke-width="5"/>
<line x1="1263.3" y1="999.0" x2="1263.3" y2="1023.8" stroke="#000" stroke-width="2.0" stroke-linecap="butt"/>
<line x1="1250.3" y1="999.0" x2="1276.3" y2="999.0" stroke="#000" stroke-width="2.0" stroke-linecap="butt"/>
<line x1="1250.3" y1="1023.8" x2="1276.3" y2="1023.8" stroke="#000" stroke-width="2.0" stroke-linecap="butt"/>
<circle cx="1263.2" cy="977.2" r="6.3" fill="#ff0000" stroke="#000" stroke-width="3.0"/>
<circle cx="1274.9" cy="1002.9" r="6.3" fill="#ff0000" stroke="#000" stroke-width="3.0"/>
<circle cx="1251.0" cy="1010.1" r="6.3" fill="#ff0000" stroke="#000" stroke-width="3.0"/>
<circle cx="1274.9" cy="1018.0" r="6.3" fill="#ff0000" stroke="#000" stroke-width="3.0"/>
<circle cx="1263.3" cy="1050.9" r="6.3" fill="#ff0000" stroke="#000" stroke-width="3.0"/>
<circle cx="924.3" cy="1196.5" r="6.3" fill="#fff" stroke="#000" stroke-width="3.0"/>
<circle cx="924.3" cy="1228.9" r="6.3" fill="#ff0000" stroke="#000" stroke-width="3.0"/>
<text x="969.14" y="1207.50" font-size="33.31" font-weight="normal">HSC-3 + Vehicle</text>
<text x="969.12" y="1239.20" font-size="33.46" font-weight="normal">HSC-3 + Capsaicin</text>
<text x="1644.18" y="700.80" font-size="32.78" font-weight="bold">Sham Xenograft</text>
<text x="1541.50" y="739.20" font-size="32.59" font-weight="bold">CAP-induced CPA in Females</text>
<line x1="1569.3" y1="789.8" x2="1569.3" y2="1109.5" stroke="#000" stroke-width="3.8" stroke-linecap="butt"/>
<line x1="1552.5" y1="791.8" x2="1569.3" y2="791.8" stroke="#000" stroke-width="3.8" stroke-linecap="butt"/>
<text x="1548.8" y="802.4" font-size="30.5" font-weight="bold" text-anchor="end" >3000</text>
<line x1="1552.5" y1="897.0" x2="1569.3" y2="897.0" stroke="#000" stroke-width="3.8" stroke-linecap="butt"/>
<text x="1548.8" y="907.6" font-size="30.5" font-weight="bold" text-anchor="end" >2000</text>
<line x1="1552.5" y1="1002.2" x2="1569.3" y2="1002.2" stroke="#000" stroke-width="3.8" stroke-linecap="butt"/>
<text x="1548.8" y="1012.9" font-size="30.5" font-weight="bold" text-anchor="end" >1000</text>
<line x1="1552.5" y1="1107.5" x2="1569.3" y2="1107.5" stroke="#000" stroke-width="3.8" stroke-linecap="butt"/>
<text x="1548.8" y="1118.1" font-size="30.5" font-weight="bold" text-anchor="end" >0</text>
<line x1="1552.5" y1="1107.5" x2="1972.4" y2="1107.5" stroke="#000" stroke-width="4.2" stroke-linecap="butt"/>
<line x1="1662.2" y1="1107.5" x2="1662.2" y2="1124.0" stroke="#000" stroke-width="3.8" stroke-linecap="butt"/>
<line x1="1876.7" y1="1107.5" x2="1876.7" y2="1124.0" stroke="#000" stroke-width="3.8" stroke-linecap="butt"/>
<text x="1663.2" y="1156.8" font-size="31" font-weight="bold" text-anchor="middle" >Pre</text>
<text x="1877.7" y="1156.8" font-size="31" font-weight="bold" text-anchor="middle" >Post</text>
<text transform="translate(1460.5,948.9) rotate(-90)" font-size="33" font-weight="bold" text-anchor="middle">Time in Chamber (s)</text>
<rect x="1598.8" y="962.7" width="47.8" height="144.8" fill="#fff" stroke="#000" stroke-width="5"/>
<line x1="1622.7" y1="952.8" x2="1622.7" y2="973.0" stroke="#000" stroke-width="2.0" stroke-linecap="butt"/>
<line x1="1609.7" y1="952.8" x2="1635.7" y2="952.8" stroke="#000" stroke-width="2.0" stroke-linecap="butt"/>
<line x1="1609.7" y1="973.0" x2="1635.7" y2="973.0" stroke="#000" stroke-width="2.0" stroke-linecap="butt"/>
<circle cx="1601.9" cy="944.4" r="6.3" fill="#fff" stroke="#000" stroke-width="3.0"/>
<circle cx="1623.0" cy="955.4" r="6.3" fill="#fff" stroke="#000" stroke-width="3.0"/>
<circle cx="1643.6" cy="948.4" r="6.3" fill="#fff" stroke="#000" stroke-width="3.0"/>
<circle cx="1612.3" cy="978.6" r="6.3" fill="#fff" stroke="#000" stroke-width="3.0"/>
<circle cx="1633.0" cy="971.6" r="6.3" fill="#fff" stroke="#000" stroke-width="3.0"/>
<rect x="1679.3" y="933.4" width="47.8" height="174.1" fill="#ff0000" stroke="#000" stroke-width="5"/>
<line x1="1703.2" y1="916.8" x2="1703.2" y2="942.7" stroke="#000" stroke-width="2.0" stroke-linecap="butt"/>
<line x1="1690.2" y1="916.8" x2="1716.2" y2="916.8" stroke="#000" stroke-width="2.0" stroke-linecap="butt"/>
<line x1="1690.2" y1="942.7" x2="1716.2" y2="942.7" stroke="#000" stroke-width="2.0" stroke-linecap="butt"/>
<circle cx="1703.2" cy="891.4" r="6.3" fill="#ff0000" stroke="#000" stroke-width="3.0"/>
<circle cx="1715.5" cy="917.7" r="6.3" fill="#ff0000" stroke="#000" stroke-width="3.0"/>
<circle cx="1690.6" cy="929.1" r="6.3" fill="#ff0000" stroke="#000" stroke-width="3.0"/>
<circle cx="1703.2" cy="944.4" r="6.3" fill="#ff0000" stroke="#000" stroke-width="3.0"/>
<circle cx="1703.2" cy="967.7" r="6.3" fill="#ff0000" stroke="#000" stroke-width="3.0"/>
<rect x="1812.6" y="944.7" width="47.8" height="162.8" fill="#fff" stroke="#000" stroke-width="5"/>
<line x1="1836.5" y1="931.2" x2="1836.5" y2="958.0" stroke="#000" stroke-width="2.0" stroke-linecap="butt"/>
<line x1="1823.5" y1="931.2" x2="1849.5" y2="931.2" stroke="#000" stroke-width="2.0" stroke-linecap="butt"/>
<line x1="1823.5" y1="958.0" x2="1849.5" y2="958.0" stroke="#000" stroke-width="2.0" stroke-linecap="butt"/>
<circle cx="1836.3" cy="899.1" r="6.3" fill="#fff" stroke="#000" stroke-width="3.0"/>
<circle cx="1814.8" cy="956.0" r="6.3" fill="#fff" stroke="#000" stroke-width="3.0"/>
<circle cx="1829.6" cy="948.4" r="6.3" fill="#fff" stroke="#000" stroke-width="3.0"/>
<circle cx="1843.0" cy="952.7" r="6.3" fill="#fff" stroke="#000" stroke-width="3.0"/>
<circle cx="1857.4" cy="952.2" r="6.3" fill="#fff" stroke="#000" stroke-width="3.0"/>
<rect x="1893.1" y="953.8" width="47.8" height="153.7" fill="#ff0000" stroke="#000" stroke-width="5"/>
<line x1="1917.0" y1="937.9" x2="1917.0" y2="963.4" stroke="#000" stroke-width="2.0" stroke-linecap="butt"/>
<line x1="1904.0" y1="937.9" x2="1930.0" y2="937.9" stroke="#000" stroke-width="2.0" stroke-linecap="butt"/>
<line x1="1904.0" y1="963.4" x2="1930.0" y2="963.4" stroke="#000" stroke-width="2.0" stroke-linecap="butt"/>
<circle cx="1904.7" cy="921.6" r="6.3" fill="#ff0000" stroke="#000" stroke-width="3.0"/>
<circle cx="1928.6" cy="929.3" r="6.3" fill="#ff0000" stroke="#000" stroke-width="3.0"/>
<circle cx="1916.7" cy="944.6" r="6.3" fill="#ff0000" stroke="#000" stroke-width="3.0"/>
<circle cx="1916.7" cy="963.7" r="6.3" fill="#ff0000" stroke="#000" stroke-width="3.0"/>
<circle cx="1916.7" cy="993.3" r="6.3" fill="#ff0000" stroke="#000" stroke-width="3.0"/>
<circle cx="1577.8" cy="1195.8" r="6.3" fill="#fff" stroke="#000" stroke-width="3.0"/>
<circle cx="1577.8" cy="1229.0" r="6.3" fill="#ff0000" stroke="#000" stroke-width="3.0"/>
<text x="1623.01" y="1205.40" font-size="33.11" font-weight="normal">Sham + Vehicle</text>
<text x="1623.00" y="1239.30" font-size="33.34" font-weight="normal">Sham + Capsaicin</text>
<polyline points="1049.3,836.5 1049.3,797.4 1267.0,797.4 1267.0,892.3" stroke="#000" stroke-width="3.5" fill="none" stroke-linejoin="miter"/>
<polyline points="1190.0,870.0 1190.0,855.3 1267.0,855.3" stroke="#000" stroke-width="3.5" fill="none" stroke-linejoin="miter"/>
<text x="1158.2" y="789.5" font-family="'DejaVu Sans', sans-serif" font-weight="bold" font-size="37" text-anchor="middle">*</text>
<text x="1228.2" y="847.0" font-family="'DejaVu Sans', sans-serif" font-weight="bold" font-size="39" text-anchor="middle">**</text>
</svg></body></html>
